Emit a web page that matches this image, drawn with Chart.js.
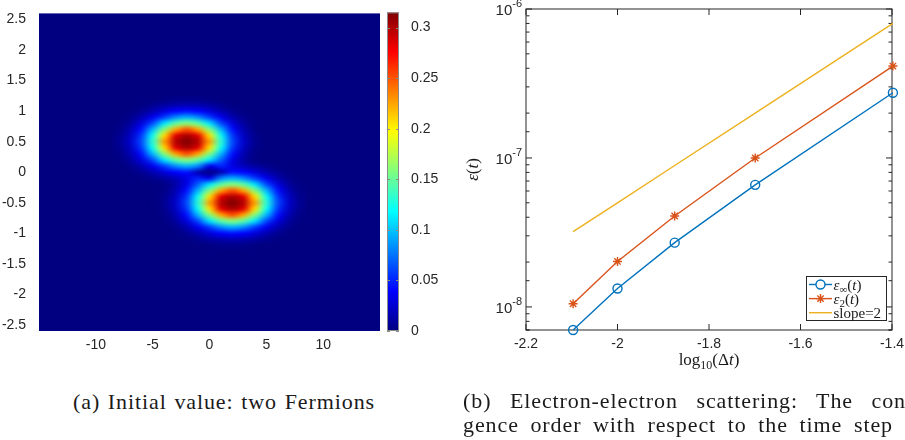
<!DOCTYPE html>
<html>
<head>
<meta charset="utf-8">
<script src="https://cdn.jsdelivr.net/npm/chart.js@4.4.0/dist/chart.umd.min.js"></script>
<style>
  body { margin: 0; width: 905px; height: 440px; overflow: hidden; background: #fff; position: relative; }
  .box { position: absolute; }
  .cap { position: absolute; font: 22px 'Liberation Serif', serif; line-height: 22px; letter-spacing: 0.9px; white-space: nowrap; color: #1a1a1a; }
</style>
</head>
<body>
<div class="box" style="left:0;top:0;width:385px;height:360px"><canvas id="heat"></canvas></div>
<div class="box" style="left:380px;top:0;width:60px;height:360px"><canvas id="cbar"></canvas></div>
<div class="box" style="left:460px;top:0;width:445px;height:380px"><canvas id="conv"></canvas></div>
<div class="cap" style="left:73px;top:391px" data-w="302">(a) Initial value: two Fermions</div>
<div class="cap" style="left:463px;top:390px" data-w="443">(b) Electron-electron scattering: The con</div>
<div class="cap" style="left:463px;top:414px" data-w="430">gence order with respect to the time step</div>
<script>
// heat map: density, cell centres in x / y
const gridX = [-8, -7, -6, -5, -4, -3, -2, -1, 0, 1, 2, 3, 4, 5, 6, 7, 8];
const gridY = [1.2, 1.1, 1.0, 0.9, 0.8, 0.7, 0.6, 0.5, 0.4, 0.3, 0.2, 0.1, 0.0,
               -0.1, -0.2, -0.3, -0.4, -0.5, -0.6, -0.7, -0.8, -0.9, -1.0, -1.1, -1.2];
const density = [
  [0, 0, 0, 0, .001, .003, .003, .003, .001, 0, 0, 0, 0, 0, 0, 0, 0],
  [0, 0, .001, .005, .010, .014, .016, .014, .010, .005, .001, 0, 0, 0, 0, 0, 0],
  [0, .001, .006, .015, .028, .039, .044, .039, .028, .015, .006, .001, 0, 0, 0, 0, 0],
  [0, .004, .015, .034, .058, .082, .093, .082, .058, .034, .015, .004, 0, 0, 0, 0, 0],
  [.001, .009, .029, .062, .109, .146, .160, .146, .109, .062, .029, .009, .001, 0, 0, 0, 0],
  [.002, .015, .044, .096, .158, .224, .252, .224, .158, .096, .044, .015, .002, 0, 0, 0, 0],
  [.004, .020, .056, .122, .206, .284, .302, .284, .206, .122, .056, .020, .004, 0, 0, 0, 0],
  [.005, .023, .062, .131, .226, .298, .315, .298, .226, .131, .062, .023, .005, 0, 0, 0, 0],
  [.004, .020, .056, .122, .206, .284, .302, .284, .206, .122, .056, .020, .004, 0, 0, 0, 0],
  [.002, .015, .044, .096, .158, .224, .252, .224, .158, .096, .044, .015, .002, 0, 0, 0, 0],
  [.001, .009, .029, .062, .109, .146, .160, .146, .110, .070, .032, .012, .002, 0, 0, 0, 0],
  [0, .004, .015, .034, .058, .082, .094, .080, .032, .050, .031, .018, .010, .005, .001, 0, 0],
  [0, .001, .006, .015, .028, .040, .045, .016, .002, .016, .045, .040, .028, .015, .006, .001, 0],
  [0, 0, .001, .005, .010, .018, .031, .050, .032, .080, .094, .082, .058, .034, .015, .004, 0],
  [0, 0, 0, 0, .002, .012, .032, .070, .110, .146, .160, .146, .109, .062, .029, .009, .001],
  [0, 0, 0, 0, .002, .015, .044, .096, .158, .224, .252, .224, .158, .096, .044, .015, .002],
  [0, 0, 0, 0, .004, .020, .056, .122, .206, .284, .302, .284, .206, .122, .056, .020, .004],
  [0, 0, 0, 0, .005, .023, .062, .131, .226, .298, .315, .298, .226, .131, .062, .023, .005],
  [0, 0, 0, 0, .004, .020, .056, .122, .206, .284, .302, .284, .206, .122, .056, .020, .004],
  [0, 0, 0, 0, .002, .015, .044, .096, .158, .224, .252, .224, .158, .096, .044, .015, .002],
  [0, 0, 0, 0, .001, .009, .029, .062, .109, .146, .160, .146, .109, .062, .029, .009, .001],
  [0, 0, 0, 0, 0, .004, .015, .034, .058, .082, .093, .082, .058, .034, .015, .004, 0],
  [0, 0, 0, 0, 0, .001, .006, .015, .028, .039, .044, .039, .028, .015, .006, .001, 0],
  [0, 0, 0, 0, 0, 0, .001, .005, .010, .014, .016, .014, .010, .005, .001, 0, 0],
  [0, 0, 0, 0, 0, 0, 0, 0, .001, .003, .003, .003, .001, 0, 0, 0, 0]
];
const heatXTicks = [-10, -5, 0, 5, 10];
const heatYTicks = [-2.5, -2, -1.5, -1, -0.5, 0, 0.5, 1, 1.5, 2, 2.5];
const cbarMax = 0.315;
const cbarTicks = [0, 0.05, 0.1, 0.15, 0.2, 0.25, 0.3];
const cbarLabels = ['0', '0.05', '0.1', '0.15', '0.2', '0.25', '0.3'];

// convergence plot
const logDt = [-2.097, -2.0, -1.875, -1.699, -1.398];
const errInf = [7.0e-9, 1.33e-8, 2.70e-8, 6.6e-8, 2.74e-7];
const errTwo = [1.05e-8, 2.02e-8, 4.08e-8, 1.0e-7, 4.14e-7];
const slopeTwo = [3.2e-8, 5.0e-8, 8.9e-8, 2.0e-7, 8.0e-7];
const convXTicks = [-2.2, -2, -1.8, -1.6, -1.4];
const convYMajor = [1e-8, 1e-7, 1e-6];
const convYExp = ['-8', '-7', '-6'];

const tickFont = { family: 'Liberation Sans', size: 14 };
const tickColor = '#262626';
const axisColor = '#262626';

// matlab jet
function jet(t) {
  t = Math.max(0, Math.min(1, t));
  const c = v => Math.round(255 * Math.max(0, Math.min(1, v)));
  return [c(1.5 - Math.abs(4 * t - 3)), c(1.5 - Math.abs(4 * t - 2)), c(1.5 - Math.abs(4 * t - 1))];
}
const rgb = a => 'rgb(' + a.join(',') + ')';

// draw text in pieces (sub/superscripts, italics)
function richText(ctx, parts, x, y, align) {
  let w = 0;
  parts.forEach(p => { ctx.font = p[1]; w += ctx.measureText(p[0]).width; });
  let cx = align === 'center' ? x - w / 2 : x;
  parts.forEach(p => {
    ctx.font = p[1];
    ctx.fillText(p[0], cx, y + (p[2] || 0));
    cx += ctx.measureText(p[0]).width;
  });
}

const heatPlugin = {
  id: 'heatImage',
  beforeDatasetsDraw(chart) {
    const { ctx, chartArea: a, scales: { x, y } } = chart;
    const nx = gridX.length, ny = gridY.length;
    const off = document.createElement('canvas');
    off.width = nx; off.height = ny;
    const octx = off.getContext('2d');
    const img = octx.createImageData(nx, ny);
    for (let j = 0; j < ny; j++) {
      for (let i = 0; i < nx; i++) {
        const c = jet(density[j][i] / cbarMax);
        const k = 4 * (j * nx + i);
        img.data[k] = c[0]; img.data[k + 1] = c[1]; img.data[k + 2] = c[2]; img.data[k + 3] = 255;
      }
    }
    octx.putImageData(img, 0, 0);
    const dx = gridX[1] - gridX[0], dy = gridY[0] - gridY[1];
    const x0 = x.getPixelForValue(gridX[0] - dx / 2), x1 = x.getPixelForValue(gridX[nx - 1] + dx / 2);
    const y0 = y.getPixelForValue(gridY[0] + dy / 2), y1 = y.getPixelForValue(gridY[ny - 1] - dy / 2);
    ctx.save();
    ctx.fillStyle = rgb(jet(0));
    ctx.fillRect(a.left, a.top, a.width, a.height);
    ctx.imageSmoothingEnabled = true;
    ctx.imageSmoothingQuality = 'high';
    ctx.drawImage(off, x0, y0, x1 - x0, y1 - y0);
    ctx.restore();
  }
};

new Chart(document.getElementById('heat'), {
  type: 'scatter',
  data: { datasets: [{ data: gridY.flatMap(yv => gridX.map(xv => ({ x: xv, y: yv }))), pointRadius: 0, pointHoverRadius: 0 }] },
  options: {
    responsive: true, maintainAspectRatio: false, animation: false, events: [],
    layout: { padding: { top: 8, right: 5, left: 0, bottom: 0 } },
    plugins: { legend: { display: false }, tooltip: { enabled: false } },
    scales: {
      x: {
        type: 'linear', min: -15, max: 15,
        afterBuildTicks: s => { s.ticks = heatXTicks.map(v => ({ value: v })); },
        afterFit: s => { s.height = 29; },
        grid: { display: false }, border: { display: false },
        ticks: { font: tickFont, color: tickColor, padding: -2, maxRotation: 0, callback: v => String(v) }
      },
      y: {
        type: 'linear', min: -2.6, max: 2.6,
        afterBuildTicks: s => { s.ticks = heatYTicks.map(v => ({ value: v })); },
        afterFit: s => { s.width = 39; },
        grid: { display: false }, border: { display: false },
        ticks: { font: tickFont, color: tickColor, padding: 5, callback: v => String(v) }
      }
    }
  },
  plugins: [heatPlugin]
});

// colour bar
function jetGradient(chart) {
  const a = chart.chartArea;
  if (!a) return null;
  const g = chart.ctx.createLinearGradient(0, a.bottom, 0, a.top);
  [0, 1 / 8, 3 / 8, 5 / 8, 7 / 8, 1].forEach(s => g.addColorStop(s, rgb(jet(s))));
  return g;
}

const cbarFrame = {
  id: 'cbarFrame',
  afterDatasetsDraw(chart) {
    const { ctx, chartArea: a, scales: { y } } = chart;
    ctx.save();
    ctx.strokeStyle = '#8a8a8a';
    ctx.lineWidth = 1;
    ctx.strokeRect(a.left + 0.5, a.top + 0.5, a.width - 1, a.height - 1);
    cbarTicks.forEach(v => {
      const py = Math.round(y.getPixelForValue(v)) + 0.5;
      ctx.beginPath();
      ctx.moveTo(a.right - 3, py); ctx.lineTo(a.right, py);
      ctx.moveTo(a.left, py); ctx.lineTo(a.left + 3, py);
      ctx.stroke();
    });
    ctx.restore();
  }
};

new Chart(document.getElementById('cbar'), {
  type: 'bar',
  data: { labels: ['c'], datasets: [{ data: [[0, cbarMax]], backgroundColor: c => jetGradient(c.chart), borderWidth: 0, barPercentage: 1, categoryPercentage: 1 }] },
  options: {
    responsive: true, maintainAspectRatio: false, animation: false, events: [],
    layout: { padding: { top: 8, right: 0, left: 7, bottom: 29 } },
    plugins: { legend: { display: false }, tooltip: { enabled: false } },
    scales: {
      x: { display: false },
      y: {
        position: 'right', min: 0, max: cbarMax,
        afterBuildTicks: s => { s.ticks = cbarTicks.map(v => ({ value: v })); },
        afterFit: s => { s.width = 41; },
        grid: { display: false }, border: { display: false },
        ticks: { font: tickFont, color: tickColor, padding: 4, callback: (v, i) => cbarLabels[i] }
      }
    }
  },
  plugins: [cbarFrame]
});

// convergence: box, inward ticks, y labels with exponents, titles, legend
const convPlugin = {
  id: 'convDecor',
  beforeDatasetsDraw(chart) {
    const { ctx, chartArea: a, scales: { x, y } } = chart;
    ctx.save();
    ctx.strokeStyle = axisColor;
    ctx.lineWidth = 1;
    ctx.strokeRect(a.left, a.top, a.width, a.height);
    ctx.beginPath();
    y.ticks.forEach(t => {
      const py = y.getPixelForValue(t.value);
      const major = Math.abs(Math.log10(t.value) - Math.round(Math.log10(t.value))) < 1e-6;
      const len = major ? 6 : 3.5;
      ctx.moveTo(a.left, py); ctx.lineTo(a.left + len, py);
      ctx.moveTo(a.right, py); ctx.lineTo(a.right - len, py);
    });
    convXTicks.forEach(v => {
      const px = x.getPixelForValue(v);
      ctx.moveTo(px, a.bottom); ctx.lineTo(px, a.bottom - 6);
      ctx.moveTo(px, a.top); ctx.lineTo(px, a.top + 6);
    });
    ctx.stroke();

    // y tick labels 10^n
    ctx.fillStyle = tickColor;
    ctx.textBaseline = 'middle';
    ctx.textAlign = 'left';
    convYMajor.forEach((v, i) => {
      const py = y.getPixelForValue(v);
      ctx.font = '11px Liberation Sans';
      const we = ctx.measureText(convYExp[i]).width;
      ctx.font = '15px Liberation Sans';
      const wb = ctx.measureText('10').width;
      const right = a.left - 4;
      ctx.fillText('10', right - we - wb, py + 2);
      ctx.font = '11px Liberation Sans';
      ctx.fillText(convYExp[i], right - we, py - 5);
    });

    // axis titles
    ctx.textBaseline = 'alphabetic';
    ctx.fillStyle = '#1a1a1a';
    const serif = 'Liberation Serif';
    richText(ctx, [['log', '17px ' + serif], ['10', '12px ' + serif, 4], ['(Δ', '17px ' + serif], ['t', 'italic 17px ' + serif], [')', '17px ' + serif]],
      (a.left + a.right) / 2, 365, 'center');
    ctx.save();
    ctx.translate(13, (a.top + a.bottom) / 2);
    ctx.rotate(-Math.PI / 2);
    richText(ctx, [['ε', 'italic 17px ' + serif], ['(', '17px ' + serif], ['t', 'italic 17px ' + serif], [')', '17px ' + serif]], 0, 5, 'center');
    ctx.restore();
    ctx.restore();
  },
  afterDraw(chart) {
    const { ctx } = chart;
    const ds = chart.data.datasets;
    const serif = 'Liberation Serif';
    const labels = [
      [['ε', 'italic 15px ' + serif], ['∞', '11px ' + serif, 3], ['(', '15px ' + serif], ['t', 'italic 15px ' + serif], [')', '15px ' + serif]],
      [['ε', 'italic 15px ' + serif], ['2', '11px ' + serif, 3], ['(', '15px ' + serif], ['t', 'italic 15px ' + serif], [')', '15px ' + serif]],
      [['slope=2', '15px ' + serif]]
    ];
    ctx.save();
    ctx.fillStyle = '#fff';
    ctx.strokeStyle = axisColor;
    ctx.lineWidth = 1;
    ctx.fillRect(346.5, 276.5, 80, 44);
    ctx.strokeRect(346.5, 276.5, 80, 44);
    labels.forEach((parts, i) => {
      const cy = 284.5 + i * 14.1;
      const d = ds[i];
      ctx.strokeStyle = d.borderColor;
      ctx.lineWidth = d.borderWidth;
      ctx.beginPath(); ctx.moveTo(349, cy); ctx.lineTo(372, cy); ctx.stroke();
      if (d.pointRadius > 0) {
        Chart.helpers.drawPoint(ctx, { pointStyle: d.pointStyle, radius: d.pointRadius, borderWidth: d.pointBorderWidth }, 360.5, cy);
      }
      ctx.fillStyle = '#1a1a1a';
      ctx.textBaseline = 'alphabetic';
      richText(ctx, parts, 373.5, cy + 5, 'left');
    });
    ctx.restore();
  }
};

new Chart(document.getElementById('conv'), {
  type: 'line',
  data: {
    datasets: [
      { label: 'inf', data: logDt.map((v, i) => ({ x: v, y: errInf[i] })), borderColor: '#0072BD', backgroundColor: 'rgba(0,0,0,0)',
        pointStyle: 'circle', pointRadius: 4.5, pointBorderWidth: 1.4, borderWidth: 1.4, pointBorderColor: '#0072BD', pointBackgroundColor: 'rgba(0,0,0,0)', clip: false },
      { label: 'two', data: logDt.map((v, i) => ({ x: v, y: errTwo[i] })), borderColor: '#D95319', backgroundColor: 'rgba(0,0,0,0)',
        pointStyle: 'star', pointRadius: 4.5, pointBorderWidth: 1.4, borderWidth: 1.4, pointBorderColor: '#D95319', pointBackgroundColor: 'rgba(0,0,0,0)', clip: false },
      { label: 'slope', data: logDt.map((v, i) => ({ x: v, y: slopeTwo[i] })), borderColor: '#EDB120', backgroundColor: 'rgba(0,0,0,0)',
        pointRadius: 0, borderWidth: 1.4, clip: false }
    ]
  },
  options: {
    responsive: true, maintainAspectRatio: false, animation: false, events: [],
    layout: { padding: { top: 9, right: 13, left: 0, bottom: 0 } },
    plugins: { legend: { display: false }, tooltip: { enabled: false } },
    elements: { line: { tension: 0 } },
    scales: {
      x: {
        type: 'linear', min: -2.2, max: -1.4,
        afterBuildTicks: s => { s.ticks = convXTicks.map(v => ({ value: v })); },
        afterFit: s => { s.height = 50; },
        grid: { display: false }, border: { display: false },
        ticks: { font: tickFont, color: tickColor, padding: -2, maxRotation: 0, callback: v => String(v) }
      },
      y: {
        type: 'logarithmic', min: 7e-9, max: 1e-6,
        afterFit: s => { s.width = 66; },
        grid: { display: false }, border: { display: false },
        ticks: { display: false }
      }
    }
  },
  plugins: [convPlugin]
});

// spread the caption words to the measured line widths
document.querySelectorAll('.cap').forEach(el => {
  const natural = el.getBoundingClientRect().width;
  const n = (el.textContent.match(/ /g) || []).length;
  el.style.wordSpacing = ((parseFloat(el.dataset.w) - natural) / n) + 'px';
});
</script>
</body>
</html>
